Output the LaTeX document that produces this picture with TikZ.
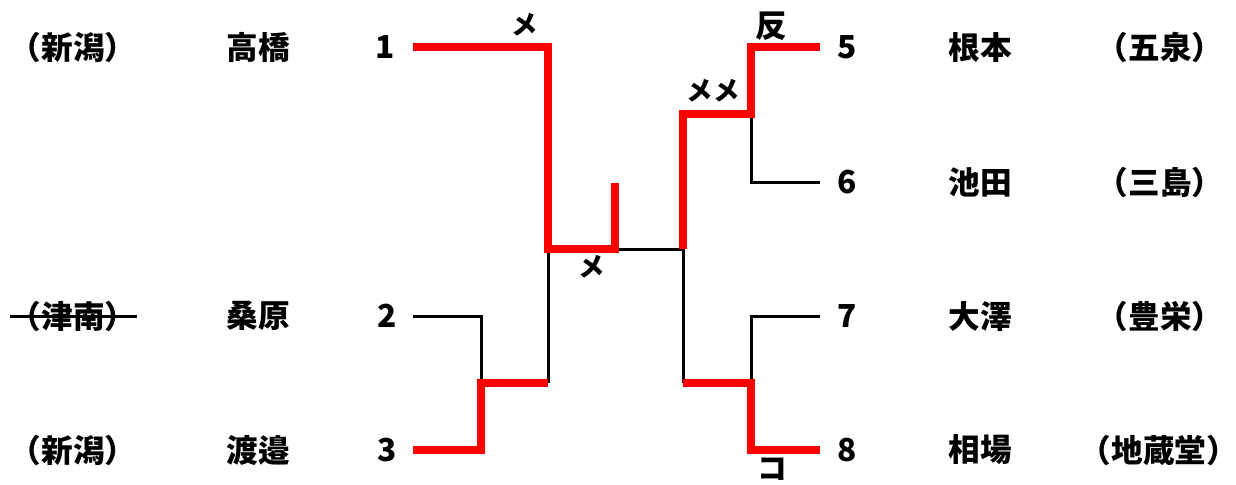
\documentclass[tikz,border=0pt]{standalone}
\usepackage{fontspec}
\setmainfont{Noto Sans CJK JP}

\begin{document}
\begin{tikzpicture}[x=0.02cm,y=-0.02cm,font=\fontsize{18}{20}\selectfont\bfseries,
  win/.style={red,line width=4pt,line join=miter},
  lose/.style={black,line width=1.7pt},
  scorelbl/.style={font=\fontsize{15}{16}\selectfont\bfseries}]
\useasboundingbox (0,0) rectangle (1236,484);
%
% Left block: schools, names, seeds
\node (s1) at (73,47) {（新潟）};
\node (p1) at (258,47) {高橋};
\node (n1) at (385,47) {1};
\node (s2) at (73,316) {（津南）};
\node (p2) at (258,316) {桑原};
\node (n2) at (387,316) {2};
\node (s3) at (73,450) {（新潟）};
\node (p3) at (258,450) {渡邉};
\node (n3) at (387,450) {3};
\draw[lose] (10,316) -- (137,316);
%
% Right block: seeds, names, schools
\node (n5) at (847,47) {5};
\node (p5) at (980,47) {根本};
\node (s5) at (1160,47) {（五泉）};
\node (n6) at (847,182) {6};
\node (p6) at (980,182) {池田};
\node (s6) at (1160,182) {（三島）};
\node (n7) at (847,316) {7};
\node (p7) at (980,316) {大澤};
\node (s7) at (1160,316) {（豊栄）};
\node (n8) at (847,450) {8};
\node (p8) at (980,450) {相場};
\node[inner sep=1pt] (s8) at (1159,450) {（地蔵堂）};
%
% Bracket points
\coordinate (L1) at (413,47);
\coordinate (L2) at (413,316);
\coordinate (L3) at (413,450);
\coordinate (Q23) at (481,383);
\coordinate (S23) at (548,383);
\coordinate (SL) at (548,249);
\coordinate (FL) at (615,249);
\coordinate (FT) at (615,183);
\coordinate (FR) at (683,249);
\coordinate (T78) at (683,383);
\coordinate (Q56) at (751,114);
\coordinate (Q78) at (751,383);
\coordinate (R5) at (820,47);
\coordinate (R6) at (820,182);
\coordinate (R7) at (820,316);
\coordinate (R8) at (820,450);
%
% Losing lines
\draw[lose] (L2) -| (Q23);
\draw[lose] (S23) -- (SL);
\draw[lose] (FL) -- (FR);
\draw[lose] (FR) -- (T78);
\draw[lose] (Q56) |- (R6);
\draw[lose] (R7) -| (Q78);
%
% Winning lines
\draw[win] (L1) -| (SL) -- (FL) -- (FT);
\draw[win] (L3) -| (Q23) -- (S23);
\draw[win] (FR) |- (Q56) |- (R5);
\draw[win] (T78) -- (Q78) |- (R8);
%
% Scores
\node[scorelbl] (m1) at (525,25) {メ};
\node[scorelbl] (m2) at (592,267) {メ};
\node[scorelbl] (m3) at (713,91) {メメ};
\node (m4) at (771,26) {反};
\node[scorelbl,font=\fontsize{17}{18}\selectfont\bfseries] (m5) at (772,469) {コ};
\end{tikzpicture}
\end{document}
